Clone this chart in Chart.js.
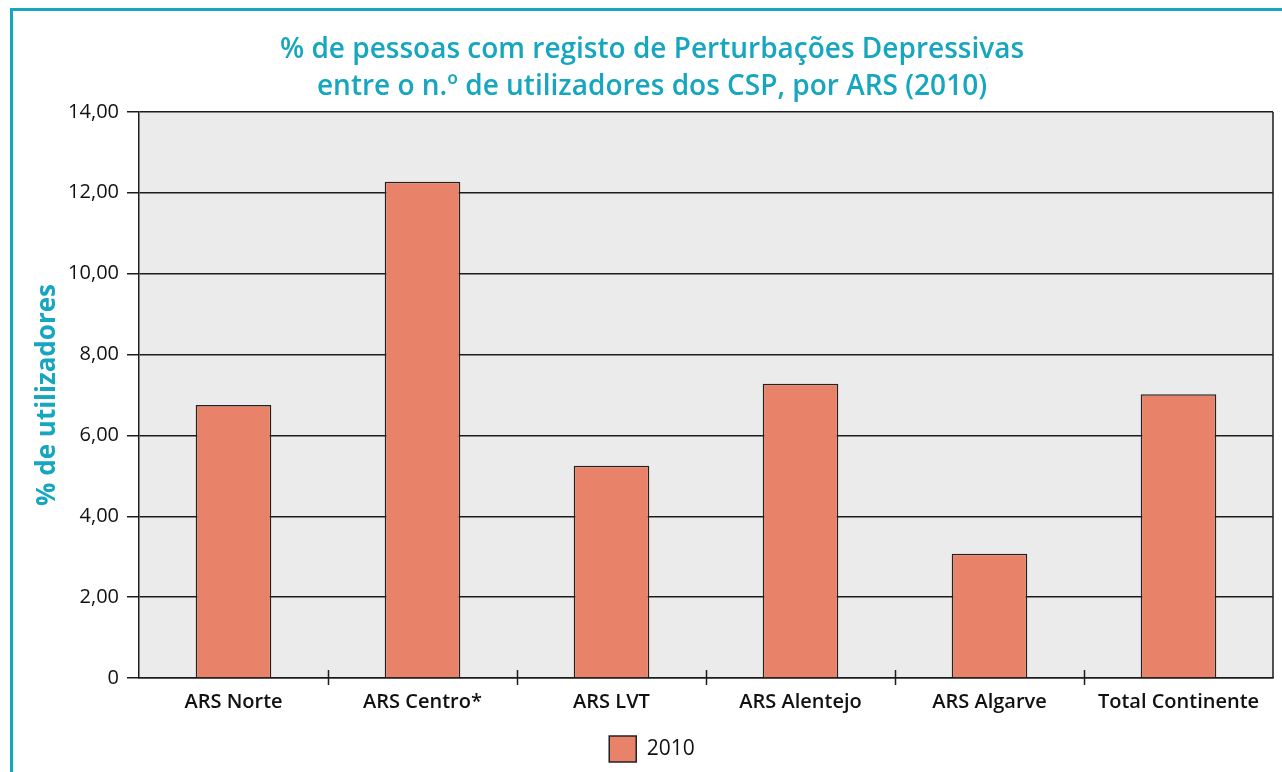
<!DOCTYPE html>
<html lang="pt">
<head>
<meta charset="UTF-8">
<title>Perturbações Depressivas por ARS (2010)</title>
<script src="https://cdn.jsdelivr.net/npm/chart.js"></script>
<style>
  body { margin: 0; background: #fff; overflow: hidden; }
  .frame { position: absolute; left: 10px; top: 8px; width: 1400px; height: 900px; border: 3px solid #17a6bf; }
  .wrap { position: absolute; left: 0; top: 0; width: 1282px; height: 772px; }
</style>
</head>
<body>
<div class="frame"></div>
<div class="wrap"><canvas id="grafico" width="1282" height="772"></canvas></div>
<script>
const categorias = ['ARS Norte', 'ARS Centro*', 'ARS LVT', 'ARS Alentejo', 'ARS Algarve', 'Total Continente'];
const valores2010 = [6.75, 12.27, 5.25, 7.28, 3.07, 7.02];
const yTicks = ['0', '2,00', '4,00', '6,00', '8,00', '10,00', '12,00', '14,00'];
const titulo = ['% de pessoas com registo de Perturbações Depressivas', 'entre o n.º de utilizadores dos CSP, por ARS (2010)'];

const teal = '#17a6bf';
const linha = '#1c1c1c';

// fundo cinza da área, borda direita e marcas entre categorias
const extras = {
  id: 'extras',
  beforeDraw(chart) {
    const { ctx, chartArea: a } = chart;
    ctx.save();
    ctx.fillStyle = '#ebebeb';
    ctx.fillRect(a.left, a.top, a.right - a.left, a.bottom - a.top);
    ctx.restore();
  },
  afterDatasetsDraw(chart) {
    const { ctx, chartArea: a } = chart;
    const x = chart.scales.x;
    ctx.save();
    ctx.strokeStyle = linha;
    ctx.lineWidth = 1.5;
    ctx.beginPath();
    ctx.moveTo(a.right, a.top);
    ctx.lineTo(a.right, a.bottom);
    for (let i = 1; i < categorias.length; i++) {
      const px = Math.round((x.getPixelForValue(i - 1) + x.getPixelForValue(i)) / 2) + 0.5;
      ctx.moveTo(px, a.bottom - 8);
      ctx.lineTo(px, a.bottom + 7);
    }
    ctx.stroke();
    ctx.restore();
  }
};

new Chart(document.getElementById('grafico'), {
  type: 'bar',
  data: {
    labels: categorias,
    datasets: [{
      label: '2010',
      data: valores2010,
      backgroundColor: '#e8836a',
      borderColor: '#222',
      borderWidth: 1.5,
      barPercentage: 0.4,
      categoryPercentage: 1
    }]
  },
  options: {
    responsive: false,
    animation: false,
    layout: { padding: { left: 31, right: 9, top: 0, bottom: 0 } },
    plugins: {
      title: {
        display: true,
        text: titulo,
        color: teal,
        font: { family: 'Open Sans', size: 28, weight: '600', lineHeight: 1.32 },
        padding: { top: 32, bottom: 6 }
      },
      legend: {
        position: 'bottom',
        labels: {
          color: '#111',
          font: { family: 'Open Sans', size: 21 },
          boxWidth: 27,
          boxHeight: 26,
          padding: 8
        }
      },
      tooltip: { enabled: false }
    },
    scales: {
      x: {
        grid: { display: false, drawTicks: false, tickLength: 0 },
        border: { display: true, color: linha, width: 1.5 },
        ticks: { color: '#111', font: { family: 'Open Sans', size: 20, weight: '600' }, padding: 12, maxRotation: 0 },
        afterFit(scale) { scale.height = 50; }
      },
      y: {
        min: 0,
        max: 14,
        ticks: {
          stepSize: 2,
          color: '#111',
          font: { family: 'Open Sans', size: 20 },
          padding: 8,
          callback: (v, i) => yTicks[i]
        },
        grid: { color: linha, lineWidth: 1.5, tickLength: 12, drawTicks: true },
        border: { display: true, color: linha, width: 1.5 },
        title: {
          display: true,
          text: '% de utilizadores',
          color: teal,
          font: { family: 'Open Sans', size: 26, weight: 'bold' },
          padding: { top: 1, bottom: 0 }
        },
        afterFit(scale) { scale.width = 108; }
      }
    }
  },
  plugins: [extras]
});
</script>
</body>
</html>
